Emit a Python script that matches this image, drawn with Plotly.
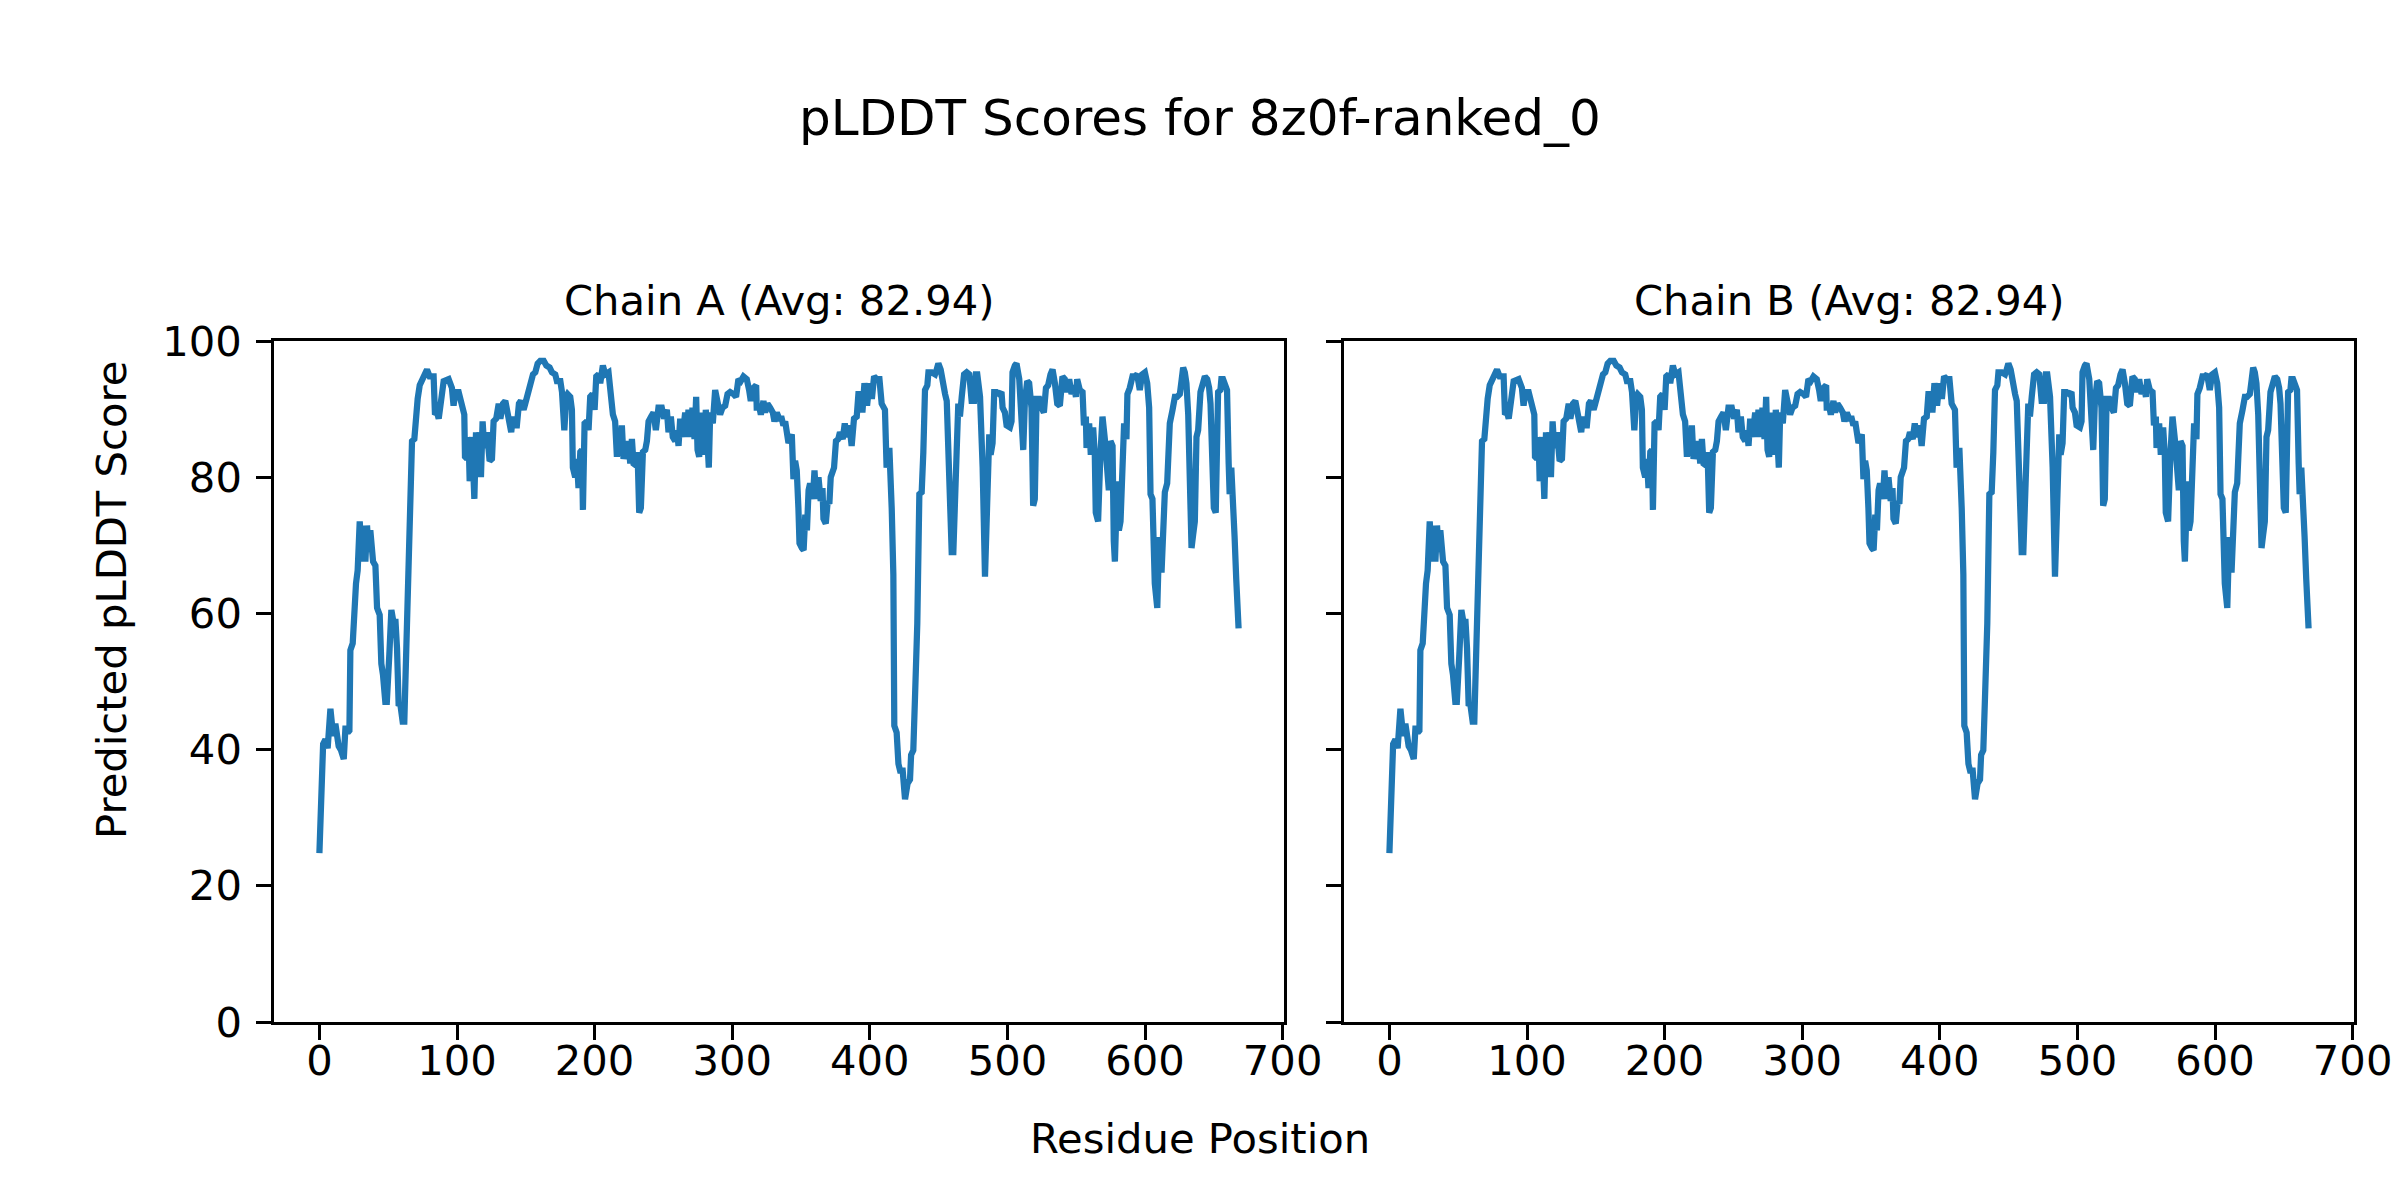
import plotly.graph_objects as go

# Residue positions and pLDDT scores
positions = [0, 2.7, 4.4, 6, 8, 10, 11.6, 14, 15.7, 17.7, 19, 20.6, 21.8, 22.5, 24.2, 25, 26.6, 27.8, 29.3, 31,
             32.2, 33.4, 34.6, 35.8, 37, 39, 40.7, 41.9, 43.8, 45, 46.2, 47.9, 49, 50.8, 52.3, 54, 55.2, 56.4, 57.6, 58.8,
             60.5, 61.7, 63.7, 64.9, 66, 67.3, 69, 70.2, 71.4, 72.9, 74.6, 76.2, 78.2, 80.1, 83, 84, 85.5, 86.7, 88.4, 89.6,
             90.3, 93.9, 96.3, 97.5, 98.8, 101.2, 103.6, 105.3, 105.8, 107.3, 108.4, 109.2, 110.9, 112.6, 113.8, 115, 116.4, 117.4, 118.6, 119.8,
             121.8, 123.7, 125.4, 126.6, 128.5, 130.3, 131.5, 133.4, 135.1, 136.3, 138.2, 139.4, 140.6, 141.8, 143.5, 145, 146.4, 148.4, 149.6, 152,
             153.7, 155.2, 156.9, 158.6, 160.5, 163, 164.9, 167.3, 169, 171.4, 172.6, 175.1, 176.3, 178, 179.4, 180.4, 182.3, 183.5, 184.2, 185.9,
             187.1, 188.3, 189.6, 190.8, 191.5, 192.7, 194.4, 195.6, 196.8, 198.5, 200, 201.2, 202.9, 204.1, 206, 207.7, 210.1, 211.3, 213.3, 214.9,
             216.2, 217.4, 218.6, 219.8, 221, 222.2, 223.4, 224.6, 225.9, 227.1, 228.3, 230.2, 231.2, 232.4, 233.6, 235.1, 236.8, 238, 239.2, 241.1,
             242.8, 244.5, 246.4, 248.8, 250.5, 252.5, 253.7, 255.4, 256.8, 258.6, 259.8, 261, 262.2, 263.9, 265.8, 267, 268.2, 269.9, 271.1, 272.6,
             273.8, 274.8, 276, 277.2, 278.6, 279.6, 280.8, 282.3, 283, 284, 285.9, 287.6, 289.3, 291.2, 292.9, 294.9, 296.6, 298.5, 301, 302.8,
             304.5, 306.2, 308.2, 310.6, 312.3, 313.5, 315.4, 317.4, 317.8, 319.8, 320.8, 322.7, 323.9, 325.6, 327.5, 329.5, 330.7, 332.4, 334.1, 336,
             337.2, 338.5, 339.7, 340.9, 343.3, 344.5, 345.7, 346.9, 348.1, 348.9, 350.6, 351.9, 353.1, 354.3, 355.5, 356.6, 358.6, 359.8, 361, 362.7,
             364.3, 365.6, 366.3, 368, 369.4, 370.6, 371.6, 373, 374, 375.4, 377.1, 378.3, 380.3, 381.8, 383.2, 385.2, 386.8, 388.5, 390.5, 391.7,
             393.4, 394.6, 396.1, 398, 399.7, 401.5, 403.1, 405.1, 407, 408.6, 411, 412.2, 414.2, 415.9, 417.1, 417.8, 419.5, 420.8, 422, 423.9,
             425.6, 427.4, 429.2, 430, 431.6, 432.8, 434.5, 436, 437.7, 438.9, 440.1, 441.8, 442.6, 445, 447.4, 448.6, 449.8, 451.5, 453, 454.7,
             455.9, 457.1, 458.3, 459.5, 460.7, 461.9, 463.1, 464.3, 465.5, 466.8, 468.5, 470.4, 472.3, 474, 475.7, 477.1, 478.1, 480.1, 482, 483.7,
             484.9, 486.8, 487.8, 489.2, 490.4, 492.1, 494.1, 495.7, 496.5, 498.2, 499.4, 501.8, 503, 503.7, 505.4, 506.6, 508.6, 510.3, 511.5, 512.7,
             514.4, 515.8, 517.5, 518.7, 519.9, 521.2, 523.1, 524.8, 526.5, 528, 529.6, 531.3, 532.8, 534.5, 536.2, 538.1, 540, 541.7, 543.4, 544.9,
             546.6, 548.3, 549.8, 550.7, 552.6, 554.6, 555.6, 557, 557.5, 559.4, 560.6, 562.3, 563.5, 564.2, 565.9, 567.5, 569.1, 570.8, 572.5, 573.7,
             574.9, 576.4, 577.3, 578.1, 579.8, 581, 582.2, 583.6, 584.8, 586.5, 587.2, 588.9, 590.9, 592.6, 594.3, 596.2, 597.9, 599.9, 601.6, 603,
             604, 605.4, 607.1, 608.9, 610.3, 612, 613.2, 614.4, 616.1, 616.8, 618, 620, 621.7, 623.3, 625.3, 626.5, 627.7, 628.9, 630.1, 631.4,
             632.6, 633.8, 635, 636.2, 637.4, 638.6, 640.3, 641.8, 643.5, 645.2, 646.6, 647.6, 649, 650, 651.4, 652.4, 653.1, 654.8, 655.5, 656.7,
             657.9, 659.6, 660.8, 661.5, 662.7, 663.9, 665.1, 666.3, 668]

chain_a = [24.8, 40.8, 41.5, 40.2, 46, 42, 43.8, 40.5, 39.9, 38.6, 43.5, 42.5, 42.8, 54.6, 55.6, 59.8, 64.4, 66.3, 73.5, 67.6,
           72.9, 67.6, 72.9, 69, 72.2, 67.6, 67, 60.8, 59.8, 52.6, 51, 47, 47, 53.9, 60.5, 58.5, 59.2, 54.9, 46.4, 46.7,
           44.1, 44.1, 59.2, 69, 79.4, 85.3, 85.6, 89.9, 91.5, 93.5, 94.1, 95.1, 95.8, 94.8, 94.8, 89.2, 89.5, 88.6, 91.5, 91.8,
           94.1, 94.4, 93.1, 90.5, 92.5, 92.5, 89.9, 89.2, 83, 82.7, 85.9, 79.4, 85.9, 76.8, 86.6, 80, 86.6, 80, 88.2, 84.3,
           86.6, 82.4, 82.7, 88.2, 88.6, 90.8, 88.6, 90.8, 91.2, 89.9, 87.9, 86.6, 88.9, 87.6, 87.6, 90.8, 91.2, 89.9, 90.8, 93.1,
           94.1, 95.1, 95.4, 96.7, 97.1, 97.1, 96.4, 96.1, 95.4, 95.1, 94.1, 94.1, 92.5, 86.9, 91.8, 92.2, 91.8, 89.9, 81.4, 80,
           82.7, 78.4, 83.7, 84, 75.2, 87.9, 88.2, 86.9, 91.8, 92.2, 89.9, 94.8, 95.1, 93.8, 96.4, 95.1, 95.4, 92.5, 89.2, 88.2,
           83, 85.6, 83.3, 87.6, 82.7, 84, 82.7, 85.3, 82, 85.6, 82, 81.7, 83.7, 74.8, 75.5, 83.7, 84, 85.3, 88.2, 88.9,
           89.5, 86.9, 90.2, 90.2, 88.6, 89.9, 86.6, 88.9, 85.9, 85.3, 86.9, 84.6, 88.6, 85.9, 89.5, 85.9, 89.9, 85.9, 90.2, 85.6,
           91.8, 84, 83, 89.5, 85.9, 83.3, 89.9, 85.6, 81.4, 89.5, 87.9, 92.8, 91.5, 89.2, 90.2, 90.5, 92.2, 92.5, 92.2, 91.8,
           94.4, 94.1, 94.8, 94.4, 92.8, 91.2, 93.1, 93.5, 90.2, 90.2, 89.2, 91.2, 89.5, 90.8, 90.2, 89.5, 88.2, 89.5, 88.6, 88.6,
           87.6, 88.2, 86.6, 85, 86.3, 79.7, 82.4, 81, 75.5, 70.3, 69.6, 69.3, 74.5, 72.2, 78.1, 79.1, 76.8, 81, 76.8, 80,
           76.5, 78.4, 73.9, 73.2, 76.5, 76.1, 80, 80.7, 81.4, 85.3, 85.6, 86.6, 85.6, 87.9, 85.9, 87.6, 84.6, 88.6, 88.9, 92.2,
           92.2, 89.5, 93.8, 90.5, 93.8, 91.5, 94.8, 94.4, 94.4, 90.8, 89.9, 81.4, 84.3, 75.5, 65.7, 43.5, 42.5, 37.9, 36.9, 36.9,
           32.7, 35, 35.6, 39.2, 39.9, 47.4, 58.5, 77.5, 77.8, 83.7, 92.8, 93.5, 95.4, 95.4, 95.1, 95.8, 96.7, 95.8, 93.5, 92.2,
           91.2, 80.7, 73.5, 69, 69, 74.2, 83.7, 90.8, 88.9, 91.8, 95.1, 95.4, 95.1, 91.2, 91.2, 95.1, 95.1, 91.8, 81.4, 65.4,
           72.9, 86.3, 83.3, 85, 92.5, 92.5, 92.2, 92.5, 90.2, 89.5, 87.6, 87.3, 88.2, 95.4, 96.4, 96.7, 94.4, 88.6, 84, 91.2,
           94.1, 93.8, 90.2, 75.8, 76.8, 91.5, 91.5, 90.2, 89.5, 93.1, 93.5, 95.1, 95.8, 93.8, 90.8, 90.5, 94.8, 94.4, 92.5, 94.4,
           92.2, 93.5, 91.8, 94.4, 92.8, 92.5, 87.6, 88.9, 84.3, 87.9, 83.3, 87.3, 83.3, 74.8, 73.5, 83, 88.9, 85.6, 82, 78.1,
           85.3, 84.6, 70.6, 67.6, 79.4, 72.2, 73.5, 79.4, 87.9, 85.6, 92.2, 93.1, 94.8, 94.8, 95.1, 92.8, 95.1, 95.4, 93.8, 90.2,
           77.5, 76.8, 64.4, 60.8, 71.2, 66, 70.9, 77.8, 79.1, 84, 87.9, 89.9, 91.8, 91.8, 92.2, 94.1, 96.1, 95.4, 93.8, 89.2,
           78.8, 69.6, 71.6, 73.5, 85.9, 86.9, 92.5, 93.5, 94.8, 94.4, 93.1, 90.8, 82, 75.5, 74.8, 85.3, 92.5, 92.8, 94.4, 94.4,
           93.8, 92.8, 82, 77.5, 81.4, 71.9, 71.2, 65, 57.8]

chain_b = list(chain_a)

titles = ["Chain A (Avg: 82.94)", "Chain B (Avg: 82.94)"]
x_ticks = [0, 100, 200, 300, 400, 500, 600, 700]
y_ticks = [0, 20, 40, 60, 80, 100]

FONT = "DejaVu Sans"
BLUE = "#1f77b4"
W, H = 2400, 1200
OFF = 8  # page body margin compensation (px)


def px_x(v):
    return (v - OFF) / W


def px_y(v):
    return 1 - (v - OFF) / H


fig = go.Figure()
fig.add_trace(go.Scatter(x=positions, y=chain_a, mode="lines", xaxis="x", yaxis="y",
                         line=dict(color=BLUE, width=6.25), showlegend=False))
fig.add_trace(go.Scatter(x=positions, y=chain_b, mode="lines", xaxis="x2", yaxis="y2",
                         line=dict(color=BLUE, width=6.25), showlegend=False))

ax_common = dict(showline=True, linecolor="black", linewidth=3.3, mirror=True,
                 ticks="outside", ticklen=14.6, tickwidth=3.3, tickcolor="black",
                 showgrid=False, zeroline=False, automargin=False,
                 tickfont=dict(family=FONT, size=41.7, color="black"))

dA = [px_x(274), px_x(1284)]
dB = [px_x(1344), px_x(2354)]
dY = [px_y(1022), px_y(341)]

fig.update_layout(
    width=W, height=H,
    margin=dict(l=0, r=0, t=0, b=0, autoexpand=False),
    paper_bgcolor="white", plot_bgcolor="white",
    xaxis=dict(domain=dA, anchor="y", range=[-33, 701], tickvals=x_ticks, ticklabelstandoff=-15, **ax_common),
    yaxis=dict(domain=dY, anchor="x", range=[0, 100], tickvals=y_ticks, ticklabelstandoff=6, **ax_common),
    xaxis2=dict(domain=dB, anchor="y2", range=[-33, 701], tickvals=x_ticks, ticklabelstandoff=-15, **ax_common),
    yaxis2=dict(domain=dY, anchor="x2", range=[0, 100], tickvals=y_ticks, showticklabels=False, **ax_common),
    showlegend=False,
)

ann = [
    dict(text="pLDDT Scores for 8z0f-ranked_0", x=px_x(1200), y=px_y(118), font=dict(size=50)),
    dict(text=titles[0], x=(dA[0] + dA[1]) / 2, y=px_y(300), font=dict(size=41.7)),
    dict(text=titles[1], x=(dB[0] + dB[1]) / 2, y=px_y(300), font=dict(size=41.7)),
    dict(text="Residue Position", x=px_x(1200), y=px_y(1138), font=dict(size=41.7)),
    dict(text="Predicted pLDDT Score", x=px_x(111), y=px_y(600), textangle=-90, font=dict(size=41.7)),
]
for a in ann:
    a["font"].update(family=FONT, color="black")
    fig.add_annotation(xref="paper", yref="paper", showarrow=False,
                       xanchor="center", yanchor="middle", **a)

fig.write_html("out.html")
